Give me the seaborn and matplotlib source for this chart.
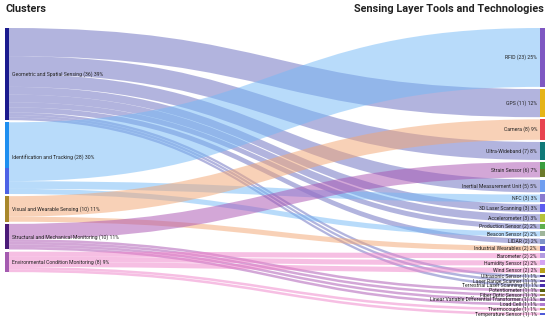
import matplotlib
matplotlib.use("Agg")
import matplotlib.pyplot as plt
from matplotlib.path import Path
from matplotlib.patches import PathPatch, Rectangle
import seaborn as sns

# ---------------- data ----------------
clusters = ["Geometric and Spatial Sensing", "Identification and Tracking",
            "Visual and Wearable Sensing", "Structural and Mechanical Monitoring",
            "Environmental Condition Monitoring"]
tools = ["RFID", "GPS", "Camera", "Ultra-Wideband", "Strain Sensor",
         "Inertial Measurement Unit", "NFC", "3D Laser Scanning", "Accelerometer",
         "Production Sensor", "Beacon Sensor", "LIDAR", "Industrial Wearables",
         "Barometer", "Humidity Sensor", "Wind Sensor", "Ultrasonic Sensor",
         "Laser Range Scanner", "Terrestrial Laser Scanning", "Potentiometer",
         "Fiber Optic Sensor", "Linear Variable Differential Transformer",
         "Load Cell", "Thermocouple", "Temperature Sensor"]

link_source = ["Geometric and Spatial Sensing"] * 10 + \
              ["Identification and Tracking"] * 3 + \
              ["Visual and Wearable Sensing"] * 2 + \
              ["Structural and Mechanical Monitoring"] * 5 + \
              ["Environmental Condition Monitoring"] * 5
link_target = ["GPS", "Ultra-Wideband", "Inertial Measurement Unit", "3D Laser Scanning",
               "Accelerometer", "Production Sensor", "LIDAR", "Ultrasonic Sensor",
               "Laser Range Scanner", "Terrestrial Laser Scanning",
               "RFID", "NFC", "Beacon Sensor",
               "Camera", "Industrial Wearables",
               "Strain Sensor", "Potentiometer", "Fiber Optic Sensor",
               "Linear Variable Differential Transformer", "Load Cell",
               "Barometer", "Humidity Sensor", "Wind Sensor", "Thermocouple",
               "Temperature Sensor"]
link_value = [11, 7, 5, 3, 3, 2, 2, 1, 1, 1,
              23, 3, 2,
              8, 2,
              6, 1, 1, 1, 1,
              2, 2, 2, 1, 1]

# ---------------- styles ----------------
cluster_colors = ["#1a1a8e", "#1e8ff0", "#a8872b", "#4b1a78", "#a45bb0"]
cluster_link_colors = ["#676bbf", "#73b9f7", "#f3a571", "#a951b1", "#ef81c9"]
tool_colors = ["#7e57c2", "#e6b417", "#e8434f", "#0f7a78", "#3a9e3e",
               "#6f9ef0", "#8a7bd0", "#5b5cf0", "#b5c23a", "#5fae4f",
               "#9fb59a", "#7f93c8", "#5a4fd0", "#b39ae0", "#d3a3f3",
               "#b8a21a", "#2a1f7a", "#5a3a9a", "#4a2fb0", "#55600f",
               "#9a7f30", "#7a5aa0", "#b07ad0", "#b8a030", "#4e5ad8"]

sns.set_theme(style="white")
plt.rcParams["font.family"] = ["Roboto", "DejaVu Sans"]

W, H = 550, 321
fig = plt.figure(figsize=(W / 100, H / 100), dpi=100)
ax = fig.add_axes([0, 0, 1, 1])
ax.set_xlim(0, W)
ax.set_ylim(H, 0)
ax.axis("off")

top = 28.0
scale = 2.56
gap = 2.15
lx0, lw = 5.0, 4.0
rx0, rw = 540.0, 5.0
total = sum(link_value)

# node totals
ctot = {c: 0 for c in clusters}
ttot = {t: 0 for t in tools}
for s, t, v in zip(link_source, link_target, link_value):
    ctot[s] += v
    ttot[t] += v

cy = {}
y = top
for c in clusters:
    cy[c] = y
    y += ctot[c] * scale + gap
ty = {}
y = top
for t in tools:
    ty[t] = y
    y += ttot[t] * scale + gap

# links: ordered by target at source, by source at target
src_off = dict(cy)
tgt_off = dict(ty)
order_src = sorted(range(len(link_value)),
                   key=lambda i: (clusters.index(link_source[i]), tools.index(link_target[i])))
spos = {}
for i in order_src:
    s = link_source[i]
    spos[i] = src_off[s]
    src_off[s] += link_value[i] * scale
order_tgt = sorted(range(len(link_value)),
                   key=lambda i: (tools.index(link_target[i]), clusters.index(link_source[i])))
tpos = {}
for i in order_tgt:
    t = link_target[i]
    tpos[i] = tgt_off[t]
    tgt_off[t] += link_value[i] * scale

x0 = lx0 + lw
x1 = rx0
xm = (x0 + x1) / 2
for i in range(len(link_value)):
    h = link_value[i] * scale
    s0, t0 = spos[i], tpos[i]
    s1, t1 = s0 + h, t0 + h
    verts = [(x0, s0), (xm, s0), (xm, t0), (x1, t0), (x1, t1),
             (xm, t1), (xm, s1), (x0, s1), (x0, s0)]
    codes = [Path.MOVETO, Path.CURVE4, Path.CURVE4, Path.CURVE4, Path.LINETO,
             Path.CURVE4, Path.CURVE4, Path.CURVE4, Path.CLOSEPOLY]
    col = cluster_link_colors[clusters.index(link_source[i])]
    ax.add_patch(PathPatch(Path(verts, codes), facecolor=col, edgecolor="none",
                           alpha=0.5, zorder=1))

lab_font = dict(fontsize=3.7, color="#222222")
for k, c in enumerate(clusters):
    h = ctot[c] * scale
    ax.add_patch(Rectangle((lx0, cy[c]), lw, h, facecolor=cluster_colors[k],
                           edgecolor="none", zorder=3))
    if k == 1:
        ax.add_patch(Rectangle((lx0, cy[c] + h * 0.64), lw, h * 0.36,
                               facecolor="#4c62e6", edgecolor="none", zorder=3))
    ax.text(lx0 + lw + 3, cy[c] + h / 2,
            f"{c} ({ctot[c]}) {round(100 * ctot[c] / total)}%",
            ha="left", va="center", zorder=4, **lab_font)

for k, t in enumerate(tools):
    h = ttot[t] * scale
    ax.add_patch(Rectangle((rx0, ty[t]), rw, h, facecolor=tool_colors[k],
                           edgecolor="none", zorder=3))
    if t == "Strain Sensor":
        ax.add_patch(Rectangle((rx0, ty[t] + h * 0.45), rw, h * 0.55,
                               facecolor="#6b7a2a", edgecolor="none", zorder=3))
    ax.text(rx0 - 3, ty[t] + h / 2,
            f"{t} ({ttot[t]}) {round(100 * ttot[t] / total)}%",
            ha="right", va="center", zorder=4, **lab_font)

ax.text(5, 9.5, "Clusters", ha="left", va="center", fontsize=7.8,
        fontweight="bold", color="#222222")
ax.text(544, 9.5, "Sensing Layer Tools and Technologies", ha="right", va="center",
        fontsize=7.8, fontweight="bold", color="#222222")

fig.savefig("out.png", dpi=100)
